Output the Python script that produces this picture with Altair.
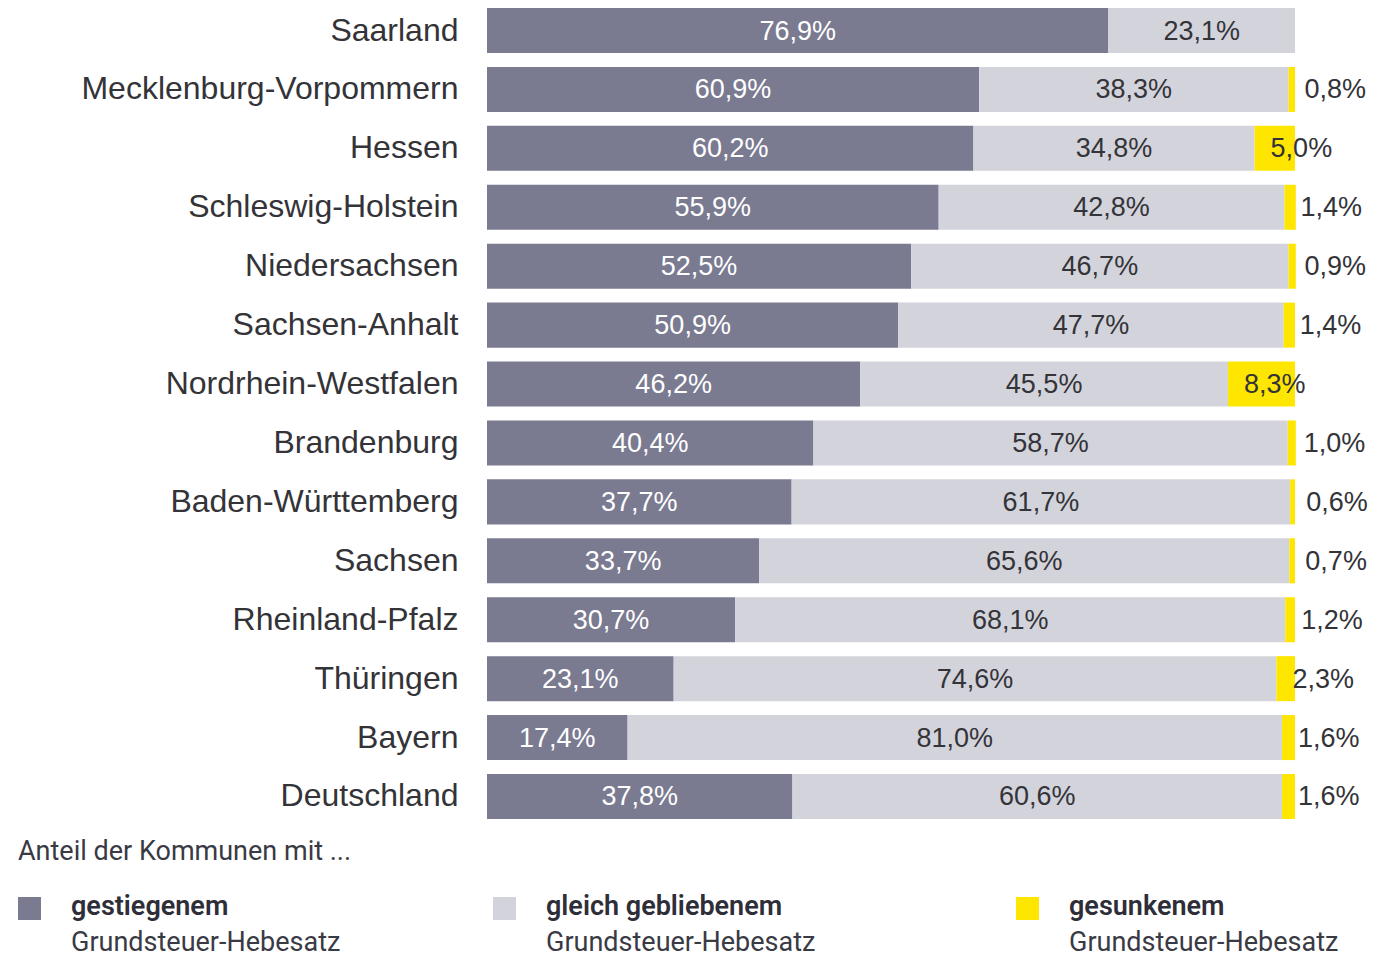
import altair as alt
import pandas as pd

states = ["Saarland", "Mecklenburg-Vorpommern", "Hessen", "Schleswig-Holstein",
          "Niedersachsen", "Sachsen-Anhalt", "Nordrhein-Westfalen", "Brandenburg",
          "Baden-Württemberg", "Sachsen", "Rheinland-Pfalz", "Thüringen", "Bayern",
          "Deutschland"]
gestiegen = [76.9, 60.9, 60.2, 55.9, 52.5, 50.9, 46.2, 40.4, 37.7, 33.7, 30.7, 23.1, 17.4, 37.8]
gleich = [23.1, 38.3, 34.8, 42.8, 46.7, 47.7, 45.5, 58.7, 61.7, 65.6, 68.1, 74.6, 81.0, 60.6]
gesunken = [0.0, 0.8, 5.0, 1.4, 0.9, 1.4, 8.3, 1.0, 0.6, 0.7, 1.2, 2.3, 1.6, 1.6]

cats = ["gestiegenem", "gleich gebliebenem", "gesunkenem"]
colors = ["#7a7a91", "#d3d3dc", "#ffe600"]
legend_line2 = "Grundsteuer-Hebesatz"
legend_title = "Anteil der Kommunen mit ..."

rows = []
for i, s in enumerate(states):
    start = 0.0
    for k, vals in enumerate([gestiegen, gleich, gesunken]):
        v = vals[i]
        if v > 0:
            rows.append({
                "state": s, "cat": cats[k], "k": k,
                "start": start, "end": start + v, "mid": start + v / 2,
                "label": f"{v:.1f}".replace(".", ",") + "%",
            })
        start += v
df = pd.DataFrame(rows)

FONT = "Liberation Sans"
TXT = "#333338"

y_enc = alt.Y("state:N", sort=states, title=None,
              scale=alt.Scale(paddingInner=0.236, paddingOuter=0),
              axis=alt.Axis(domain=False, ticks=False, labelFontSize=32, labelFont=FONT,
                            labelColor=TXT, labelPadding=29, labelLimit=470))
x_scale = alt.Scale(domain=[0, 100], nice=False)

bars = alt.Chart(df).mark_bar().encode(
    y=y_enc,
    x=alt.X("start:Q", scale=x_scale, axis=None),
    x2="end:Q",
    color=alt.Color("cat:N", scale=alt.Scale(domain=cats, range=colors), legend=None),
)

lab_dark = alt.Chart(df).transform_filter("datum.k == 0").mark_text(
    font=FONT, fontSize=27, color="white", align="center", baseline="middle", dy=1
).encode(y=alt.Y("state:N", sort=states), x=alt.X("mid:Q", scale=x_scale), text="label:N")

lab_light = alt.Chart(df).transform_filter("datum.k == 1").mark_text(
    font=FONT, fontSize=27, color=TXT, align="center", baseline="middle", dy=1
).encode(y=alt.Y("state:N", sort=states), x=alt.X("mid:Q", scale=x_scale), text="label:N")

lab_yellow = alt.Chart(df).transform_filter("datum.k == 2").mark_text(
    font=FONT, fontSize=27, color=TXT, align="left", baseline="middle", dx=16, dy=1
).encode(y=alt.Y("state:N", sort=states), x=alt.X("start:Q", scale=x_scale), text="label:N")

layers = [bars, lab_dark, lab_light, lab_yellow]

one = pd.DataFrame({"a": [0]})
LFONT = "Roboto"
layers.append(alt.Chart(one).mark_text(
    font=LFONT, fontSize=27, color="#3a3a44", align="left", baseline="middle"
).encode(x=alt.value(-469), y=alt.value(844), text=alt.value(legend_title)))

sq_x = [-469, 6, 529]
for k in range(3):
    layers.append(alt.Chart(one).mark_rect(color=colors[k]).encode(
        x=alt.value(sq_x[k]), x2=alt.value(sq_x[k] + 23),
        y=alt.value(889), y2=alt.value(912)))
    layers.append(alt.Chart(one).mark_text(
        font=LFONT, fontSize=27, fontWeight=600, color="#2e2e38", align="left", baseline="middle"
    ).encode(x=alt.value(sq_x[k] + 53), y=alt.value(899), text=alt.value(cats[k])))
    layers.append(alt.Chart(one).mark_text(
        font=LFONT, fontSize=27, color="#3a3a44", align="left", baseline="middle"
    ).encode(x=alt.value(sq_x[k] + 53), y=alt.value(935), text=alt.value(legend_line2)))

chart = alt.layer(*layers).properties(
    width=808, height=811,
    autosize=alt.AutoSizeParams(type="none"),
    padding={"left": 479, "top": 0, "right": 80, "bottom": 138},
).configure_view(stroke=None)

chart.save("out.html", embed_options={"renderer": "svg", "actions": False})
